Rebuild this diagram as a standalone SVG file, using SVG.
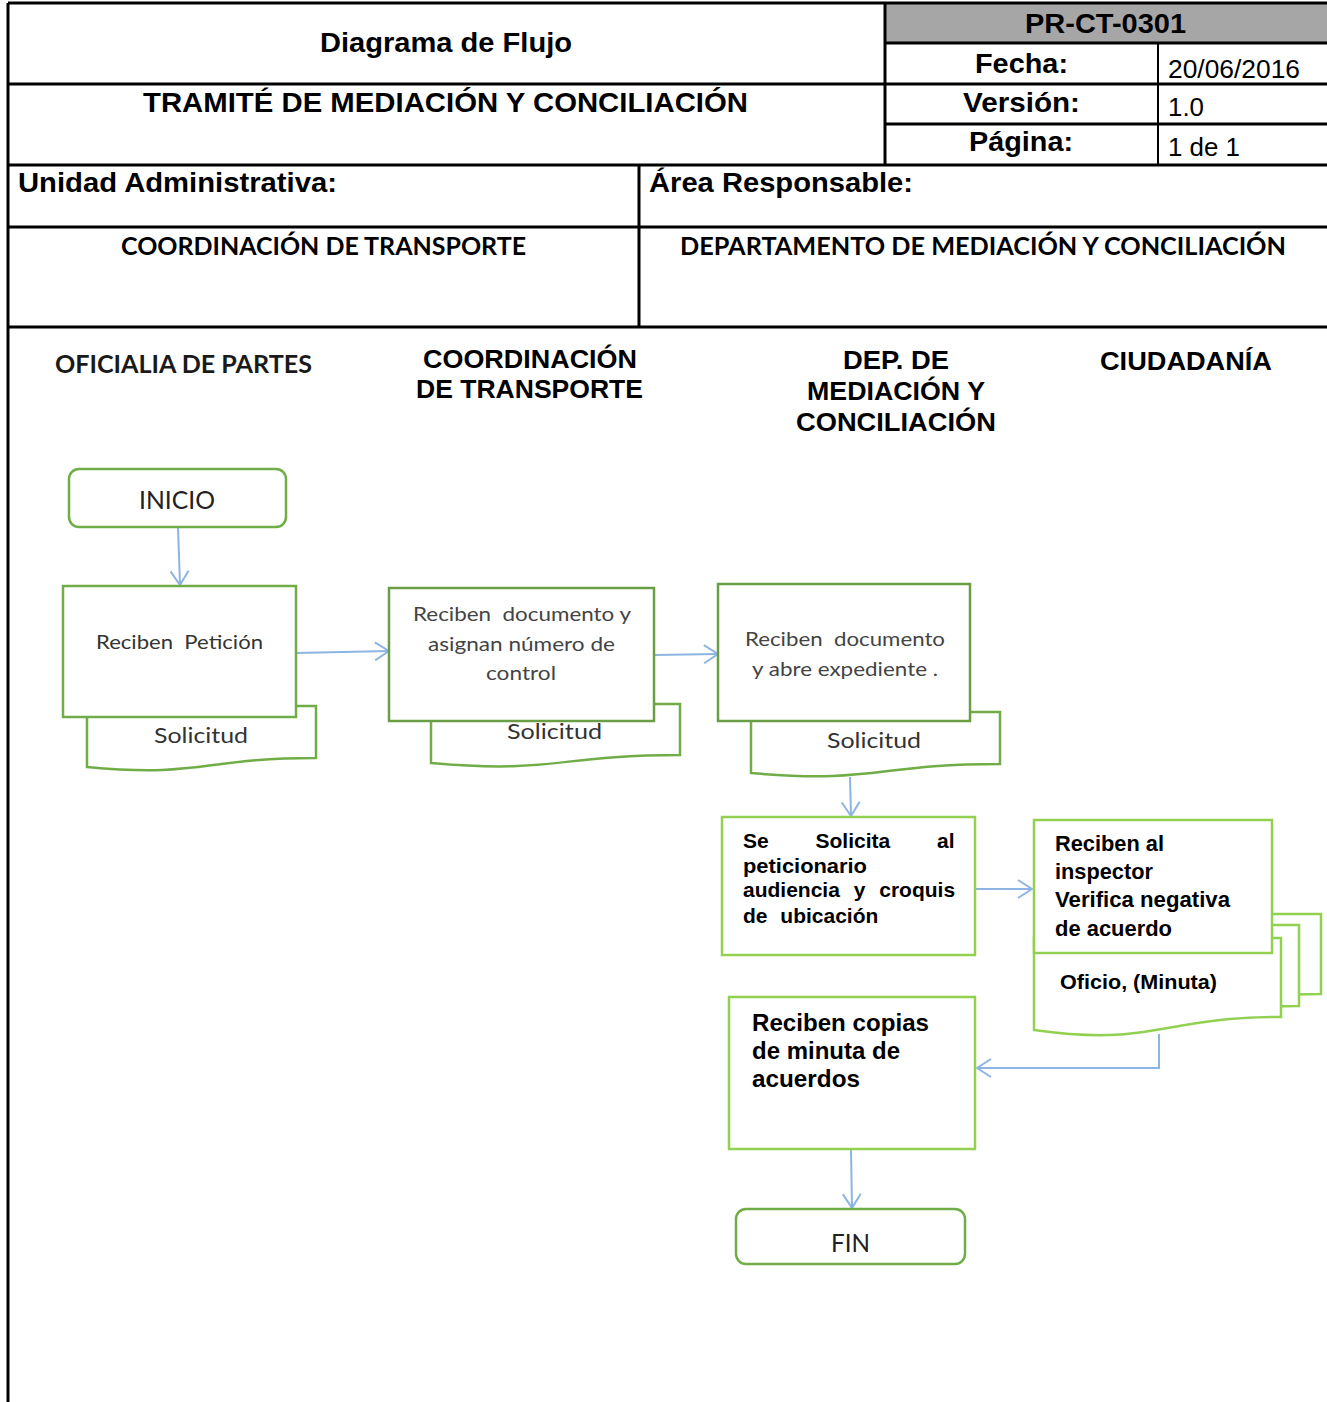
<svg xmlns="http://www.w3.org/2000/svg" width="1327" height="1402" viewBox="0 0 1327 1402">
<style>
.ar{font-family:"Liberation Sans",Arial,sans-serif;fill:#000}
.b{font-weight:bold}
.ca{font-family:Lato,"Open Sans",sans-serif}
.tl{stroke:#000;stroke-width:3;fill:none}
.g1{fill:#fff;stroke:#70AD47;stroke-width:2.5}
.g2{fill:#fff;stroke:#6A9E45;stroke-width:2.5}
.g3{fill:#fff;stroke:#92D050;stroke-width:2.5}
.cn{fill:none;stroke:#8DB4E2;stroke-width:2}
.t{white-space:pre}
</style>
<defs>
<marker id="ah" viewBox="0 0 16 20" refX="15" refY="10" markerWidth="16" markerHeight="20" markerUnits="userSpaceOnUse" orient="auto">
<path d="M1,1 L15,10 L1,19" fill="none" stroke="#8DB4E2" stroke-width="2"/>
</marker>
</defs>
<rect width="1327" height="1402" fill="#fff"/>
<g id="header">
<rect x="885" y="3" width="442" height="40" fill="#A6A6A6"/>
<path class="tl" d="M8,3 H1327 M8,3 V1402 M8,84 H885 M885,43 H1327 M885,84 H1327 M885,124 H1327 M8,165 H1327 M8,227 H1327 M8,327 H1327 M885,3 V165 M639,165 V327"/>
<path d="M1158,43 V165" stroke="#000" stroke-width="2" fill="none"/>
<text class="ar b" x="446" y="52" font-size="28" text-anchor="middle" textLength="252" lengthAdjust="spacingAndGlyphs">Diagrama de Flujo</text>
<text class="ar b" x="445.5" y="112" font-size="28" text-anchor="middle" textLength="605" lengthAdjust="spacingAndGlyphs">TRAMITÉ DE MEDIACIÓN Y CONCILIACIÓN</text>
<text class="ar b" x="1105.5" y="33" font-size="27" text-anchor="middle" textLength="161" lengthAdjust="spacingAndGlyphs">PR-CT-0301</text>
<text class="ar b" x="1021.5" y="73" font-size="27" text-anchor="middle" textLength="93" lengthAdjust="spacingAndGlyphs">Fecha:</text>
<text class="ar" x="1168" y="78" font-size="25" textLength="132" lengthAdjust="spacingAndGlyphs">20/06/2016</text>
<text class="ar b" x="1021.5" y="112" font-size="27" text-anchor="middle" textLength="117" lengthAdjust="spacingAndGlyphs">Versión:</text>
<text class="ar" x="1168" y="116" font-size="25" textLength="36" lengthAdjust="spacingAndGlyphs">1.0</text>
<text class="ar b" x="1021" y="151" font-size="27" text-anchor="middle" textLength="104" lengthAdjust="spacingAndGlyphs">Página:</text>
<text class="ar" x="1168" y="156" font-size="25" textLength="72" lengthAdjust="spacingAndGlyphs">1 de 1</text>
<text class="ar b" x="18" y="192" font-size="27" textLength="319" lengthAdjust="spacingAndGlyphs">Unidad Administrativa:</text>
<text class="ar b" x="649" y="192" font-size="27" textLength="264" lengthAdjust="spacingAndGlyphs">Área Responsable:</text>
<text class="ca b" x="323.5" y="255" font-size="25" text-anchor="middle" textLength="405" lengthAdjust="spacingAndGlyphs">COORDINACIÓN DE TRANSPORTE</text>
<text class="ca b" x="983" y="255" font-size="25" text-anchor="middle" textLength="606" lengthAdjust="spacingAndGlyphs">DEPARTAMENTO DE MEDIACIÓN Y CONCILIACIÓN</text>
</g>
<g id="lanes">
<text class="ca b" x="183.5" y="373" font-size="25" text-anchor="middle" textLength="257" lengthAdjust="spacingAndGlyphs" fill="#1a1a1a">OFICIALIA DE PARTES</text>
<text class="ar b" x="530" y="368" font-size="26" text-anchor="middle" textLength="214" lengthAdjust="spacingAndGlyphs">COORDINACIÓN</text>
<text class="ar b" x="529.5" y="398" font-size="26" text-anchor="middle" textLength="227" lengthAdjust="spacingAndGlyphs">DE TRANSPORTE</text>
<text class="ar b" x="896" y="369" font-size="26" text-anchor="middle" textLength="106" lengthAdjust="spacingAndGlyphs">DEP. DE</text>
<text class="ar b" x="896" y="400" font-size="26" text-anchor="middle" textLength="178" lengthAdjust="spacingAndGlyphs">MEDIACIÓN Y</text>
<text class="ar b" x="896" y="431" font-size="26" text-anchor="middle" textLength="200" lengthAdjust="spacingAndGlyphs">CONCILIACIÓN</text>
<text class="ar b" x="1186" y="370" font-size="26" text-anchor="middle" textLength="172" lengthAdjust="spacingAndGlyphs">CIUDADANÍA</text>
</g>
<g id="connectors">
<path class="cn" d="M178,527 L180,585" marker-end="url(#ah)"/>
<path class="cn" d="M296,653 L389,651" marker-end="url(#ah)"/>
<path class="cn" d="M654,655 L718,654" marker-end="url(#ah)"/>
<path class="cn" d="M850,777 L851,816" marker-end="url(#ah)"/>
<path class="cn" d="M976,889 L1032,889" marker-end="url(#ah)"/>
<path class="cn" d="M1159,1034 V1068 H977" marker-end="url(#ah)"/>
<path class="cn" d="M851,1150 L852,1208" marker-end="url(#ah)"/>
</g>
<g id="inicio">
<rect class="g1" x="69" y="469" width="217" height="58" rx="10"/>
<text class="ca" x="177" y="509" font-size="25" text-anchor="middle" fill="#222" textLength="76" lengthAdjust="spacingAndGlyphs">INICIO</text>
</g>
<g id="n1">
<path class="g1" d="M87,706 H316 V758 C201.5,758 201.5,778 87,767 Z"/>
<text class="ca" x="201" y="743" font-size="22" text-anchor="middle" fill="#333" textLength="94" lengthAdjust="spacingAndGlyphs">Solicitud</text>
<rect class="g1" x="63" y="586" width="233" height="131"/>
<text class="ca t" x="179.5" y="649" font-size="20" text-anchor="middle" fill="#333" textLength="167" lengthAdjust="spacingAndGlyphs">Reciben  Petición</text>
</g>
<g id="n2">
<path class="g1" d="M431,704 H680 V755 C555.5,755 555.5,774 431,763 Z"/>
<text class="ca" x="554.5" y="739" font-size="22" text-anchor="middle" fill="#333" textLength="95" lengthAdjust="spacingAndGlyphs">Solicitud</text>
<rect class="g2" x="389" y="588" width="265" height="133"/>
<text class="ca t" x="522" y="621" font-size="20" text-anchor="middle" fill="#444" textLength="218" lengthAdjust="spacingAndGlyphs">Reciben  documento y</text>
<text class="ca" x="521.5" y="651" font-size="20" text-anchor="middle" fill="#444" textLength="187" lengthAdjust="spacingAndGlyphs">asignan número de</text>
<text class="ca" x="521" y="680" font-size="20" text-anchor="middle" fill="#444" textLength="70" lengthAdjust="spacingAndGlyphs">control</text>
</g>
<g id="n3">
<path class="g1" d="M751,712 H1000 V764 C875.5,764 875.5,784 751,773 Z"/>
<text class="ca" x="874" y="748" font-size="22" text-anchor="middle" fill="#333" textLength="94" lengthAdjust="spacingAndGlyphs">Solicitud</text>
<rect class="g2" x="718" y="584" width="252" height="137"/>
<text class="ca t" x="845" y="646" font-size="20" text-anchor="middle" fill="#444" textLength="200" lengthAdjust="spacingAndGlyphs">Reciben  documento</text>
<text class="ca" x="845" y="676" font-size="20" text-anchor="middle" fill="#444" textLength="186" lengthAdjust="spacingAndGlyphs">y abre expediente .</text>
</g>
<g id="n4">
<rect class="g3" x="722" y="817" width="253" height="138"/>
<text class="ar b" x="743" y="848" font-size="21" word-spacing="41">Se Solicita al</text>
<text class="ar b" x="743" y="873" font-size="21" textLength="124" lengthAdjust="spacingAndGlyphs">peticionario</text>
<text class="ar b" x="743" y="897" font-size="21" word-spacing="8">audiencia y croquis</text>
<text class="ar b" x="743" y="923" font-size="21" word-spacing="7">de ubicación</text>
</g>
<g id="n5">
<path class="g3" d="M1074,914 H1321 V994 C1197.5,994 1197.5,1025 1074,1007 Z"/>
<path class="g3" d="M1052,925 H1299 V1006 C1175.5,1006 1175.5,1036 1052,1018 Z"/>
<path class="g3" d="M1034,938 H1281 V1017 C1157.5,1017 1157.5,1047 1034,1030 Z"/>
<text class="ar b" x="1060" y="989" font-size="21" textLength="157" lengthAdjust="spacingAndGlyphs">Oficio, (Minuta)</text>
<rect class="g3" x="1034" y="820" width="238" height="133"/>
<text class="ar b" x="1055" y="851" font-size="22" textLength="109" lengthAdjust="spacingAndGlyphs">Reciben al</text>
<text class="ar b" x="1055" y="879" font-size="22" textLength="98" lengthAdjust="spacingAndGlyphs">inspector</text>
<text class="ar b" x="1055" y="907" font-size="22" textLength="175" lengthAdjust="spacingAndGlyphs">Verifica negativa</text>
<text class="ar b" x="1055" y="936" font-size="22" textLength="117" lengthAdjust="spacingAndGlyphs">de acuerdo</text>
</g>
<g id="n6">
<rect class="g3" x="729" y="997" width="246" height="152"/>
<text class="ar b" x="752" y="1031" font-size="24" textLength="177" lengthAdjust="spacingAndGlyphs">Reciben copias</text>
<text class="ar b" x="752" y="1059" font-size="24" textLength="148" lengthAdjust="spacingAndGlyphs">de minuta de</text>
<text class="ar b" x="752" y="1087" font-size="24" textLength="108" lengthAdjust="spacingAndGlyphs">acuerdos</text>
</g>
<g id="fin">
<rect class="g1" x="736" y="1209" width="229" height="55" rx="10"/>
<text class="ca" x="850.5" y="1252" font-size="25" text-anchor="middle" fill="#222" textLength="39" lengthAdjust="spacingAndGlyphs">FIN</text>
</g>
</svg>
